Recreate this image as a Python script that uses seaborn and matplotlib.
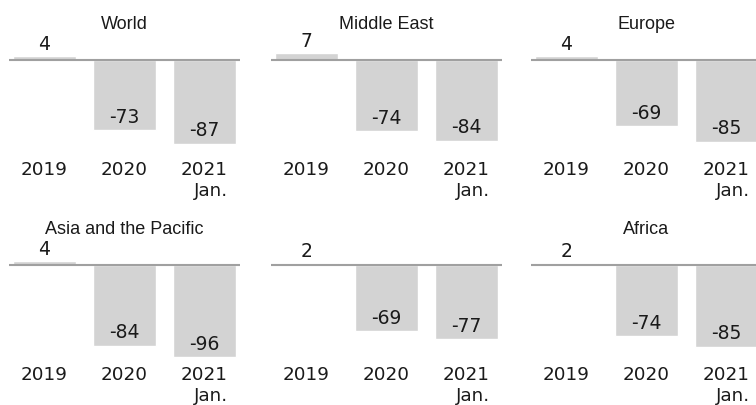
import matplotlib
matplotlib.use("Agg")
import matplotlib.pyplot as plt
import seaborn as sns
import pandas as pd

periods = ["2019", "2020", "2021\nJan."]
regions = ["World", "Middle East", "Europe", "Asia and the Pacific", "", "Africa"]
world = [4, -73, -87]
middle_east = [7, -74, -84]
europe = [4, -69, -85]
asia_pacific = [4, -84, -96]
americas = [2, -69, -77]
africa = [2, -74, -85]
series = [world, middle_east, europe, asia_pacific, americas, africa]

sns.set_theme(style="white")
plt.rcParams["font.family"] = ["DejaVu Sans"]

BAR = "#d3d3d3"
LINE = "#a0a0a0"
TEXT = "#1a1a1a"

W, H = 756, 406
fig = plt.figure(figsize=(W / 100, H / 100), dpi=100)

lefts = [9, 271, 531]
axw = 231
scale = 0.96
ymin, ymax = -100, 10
axh = (ymax - ymin) * scale
zeros = [61, 266]

for i, (name, vals) in enumerate(zip(regions, series)):
    r, c = divmod(i, 3)
    top = zeros[r] - ymax * scale
    bottom = top + axh
    ax = fig.add_axes([lefts[c] / W, (H - bottom) / H, axw / W, axh / H])
    df = pd.DataFrame({"period": periods, "value": vals})
    sns.barplot(data=df, x="period", y="value", order=periods, color=BAR,
                width=0.79, saturation=1, ax=ax, zorder=1)
    ax.axhline(0, color=LINE, lw=1.5, zorder=3)
    ax.set_xlim(-0.444, 2.444)
    ax.set_ylim(ymin, ymax)
    for s in ax.spines.values():
        s.set_visible(False)
    ax.set_yticks([])
    ax.set_xlabel("")
    ax.set_ylabel("")
    ax.tick_params(axis="x", length=0, pad=3, labelsize=13.2, labelcolor=TEXT)
    ax.set_xticks(range(len(periods)))
    labels = ax.set_xticklabels(periods)
    for lab in labels:
        lab.set_multialignment("right")
        lab.set_linespacing(1.2)
    for x, v in enumerate(vals):
        off = 9.4 if v >= 0 else 10
        ax.annotate(f"{v}", (x, v), xytext=(0, off), textcoords="offset points",
                    ha="center", va="center", fontsize=13.5, color=TEXT)
    if name:
        ax.set_title(name, family=["Liberation Sans", "DejaVu Sans"], fontsize=13,
                     color=TEXT, pad=16)

fig.savefig("out.png", dpi=100)
